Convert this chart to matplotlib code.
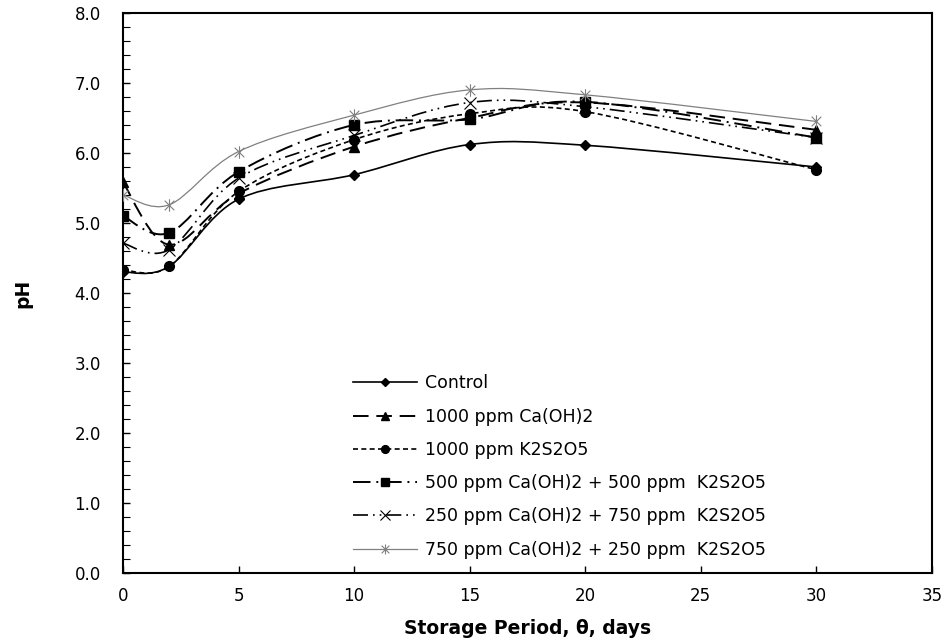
import numpy as np
import matplotlib.pyplot as plt
from matplotlib.path import Path
from matplotlib.patches import PathPatch
from matplotlib.lines import Line2D
from matplotlib.ticker import MultipleLocator

plt.rcParams['font.family'] = ['DejaVu Sans']

# Dane
days = [0, 2, 5, 10, 15, 20, 30]
control = [4.30, 4.38, 5.34, 5.69, 6.12, 6.11, 5.80]
ca_1000 = [5.58, 4.69, 5.42, 6.09, 6.50, 6.72, 6.33]
k_1000 = [4.33, 4.38, 5.45, 6.19, 6.56, 6.59, 5.76]
ca500_k500 = [5.10, 4.86, 5.73, 6.40, 6.48, 6.73, 6.22]
ca250_k750 = [4.71, 4.62, 5.64, 6.25, 6.72, 6.66, 6.22]
ca750_k250 = [5.40, 5.26, 6.02, 6.54, 6.90, 6.83, 6.45]

labels = ['Control', '1000 ppm Ca(OH)2', '1000 ppm K2S2O5',
          '500 ppm Ca(OH)2 + 500 ppm  K2S2O5',
          '250 ppm Ca(OH)2 + 750 ppm  K2S2O5',
          '750 ppm Ca(OH)2 + 250 ppm  K2S2O5']

# marker gwiazdka: x z pionowa kreska
star = Path([(-1, -1), (1, 1), (-1, 1), (1, -1), (0, -1.3), (0, 1.3)],
            [Path.MOVETO, Path.LINETO, Path.MOVETO, Path.LINETO, Path.MOVETO, Path.LINETO])

styles = [
    dict(color='black', lw=1.2, ls='-', marker='D', ms=5),
    dict(color='black', lw=1.4, ls=(0, (8, 4)), marker='^', ms=7),
    dict(color='black', lw=1.2, ls=(0, (3, 2)), marker='o', ms=7),
    dict(color='black', lw=1.4, ls=(0, (9, 3, 1, 3)), marker='s', ms=7),
    dict(color='black', lw=1.2, ls=(0, (9, 3, 1, 3, 1, 3)), marker='x', ms=9, mew=0.8),
    dict(color='#808080', lw=0.9, ls='-', marker=star, ms=9, mew=0.8),
]
series = [control, ca_1000, k_1000, ca500_k500, ca250_k750, ca750_k250]


def smooth_path(x, y):
    # krzywa Beziera jak "wygladzona linia" w Excelu
    p = np.column_stack([x, y]).astype(float)
    verts = [p[0]]
    codes = [Path.MOVETO]
    n = len(p)
    for i in range(n - 1):
        p0 = p[i - 1] if i > 0 else p[i]
        p3 = p[i + 2] if i + 2 < n else p[i + 1]
        c1 = p[i] + (p[i + 1] - p0) / 6.0
        c2 = p[i + 1] - (p3 - p[i]) / 6.0
        verts += [c1, c2, p[i + 1]]
        codes += [Path.CURVE4] * 3
    return Path(verts, codes)


fig = plt.figure(figsize=(9.46, 6.42), dpi=100)
ax = fig.add_axes([0.130, 0.107, 0.855, 0.873])

handles = []
for y, st, lab in zip(series, styles, labels):
    patch = PathPatch(smooth_path(days, y), facecolor='none', edgecolor=st['color'],
                      lw=st['lw'], ls=st['ls'], transform=ax.transData, zorder=2)
    ax.add_patch(patch)
    ax.plot(days, y, ls='none', marker=st['marker'], ms=st['ms'], color=st['color'],
            mfc=st['color'], mec=st['color'], mew=st.get('mew', 1.0), zorder=3)
    handles.append(Line2D([], [], color=st['color'], lw=st['lw'], ls=st['ls'],
                          marker=st['marker'], ms=st['ms'] * 0.8, mew=st.get('mew', 1.0)))

ax.set_xlim(0, 35)
ax.set_ylim(0, 8)
ax.xaxis.set_major_locator(MultipleLocator(5))
ax.yaxis.set_major_locator(MultipleLocator(1))
ax.yaxis.set_minor_locator(MultipleLocator(0.2))
ax.yaxis.set_major_formatter(plt.FormatStrFormatter('%.1f'))
ax.tick_params(direction='in', length=5, width=1, labelsize=12)
ax.tick_params(axis='x', pad=10)
ax.tick_params(axis='y', pad=16)
ax.tick_params(axis='y', which='minor', direction='in', length=5, width=0.8)
for s in ax.spines.values():
    s.set_linewidth(1.5)

ax.set_xlabel('Storage Period, θ, days', fontsize=13.5, fontweight='bold', labelpad=10)
ax.set_ylabel('pH', fontsize=13.5, fontweight='bold', labelpad=30)

ax.legend(handles, labels, loc='upper left', bbox_to_anchor=(0.284, 0.355),
          frameon=False, fontsize=12.5, handlelength=3.7, handletextpad=0.45,
          labelspacing=0.88, borderpad=0, borderaxespad=0)

fig.savefig('out.png', dpi=100)
